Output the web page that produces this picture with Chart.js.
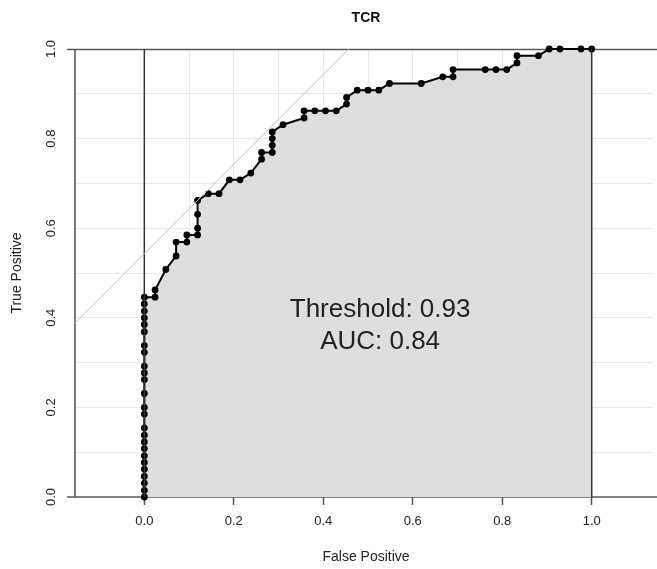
<!DOCTYPE html>
<html>
<head>
<meta charset="utf-8">
<script src="https://cdn.jsdelivr.net/npm/chart.js@4.4.1/dist/chart.umd.min.js"></script>
<style>
html,body{margin:0;padding:0;background:#fff;}
#wrap{width:657px;height:569px;}
</style>
</head>
<body>
<div id="wrap"><canvas id="c" width="657" height="569"></canvas></div>
<script>
// ---- data ----
const chartTitle = 'TCR';
const xTitle = 'False Positive';
const yTitle = 'True Positive';
const thresholdText = 'Threshold: 0.93';
const aucText = 'AUC: 0.84';

const fpr = [
  0, 0, 0, 0, 0, 0, 0, 0, 0, 0, 0,
  0, 0, 0, 0, 0, 0, 0, 0, 0, 0, 0, 0, 0, 0,
  0.024, 0.024, 0.048, 0.071, 0.071, 0.095, 0.095, 0.119, 0.119, 0.119, 0.119,
  0.143, 0.167, 0.190, 0.214, 0.238, 0.262, 0.262, 0.286, 0.286, 0.286, 0.286,
  0.310, 0.357, 0.357, 0.381, 0.405, 0.429, 0.452, 0.452, 0.476, 0.500, 0.524,
  0.548, 0.619, 0.667, 0.690, 0.690, 0.762, 0.786, 0.810, 0.833, 0.833, 0.881,
  0.905, 0.929, 0.976, 1.0
];
const tpr = [
  0, 0.015, 0.031, 0.046, 0.062, 0.077, 0.092, 0.108, 0.123, 0.138, 0.154,
  0.185, 0.200, 0.231, 0.262, 0.277, 0.292, 0.323, 0.338, 0.369, 0.385, 0.400, 0.415, 0.431, 0.446,
  0.446, 0.462, 0.508, 0.538, 0.569, 0.569, 0.585, 0.585, 0.600, 0.631, 0.662,
  0.677, 0.677, 0.708, 0.708, 0.723, 0.754, 0.769, 0.769, 0.785, 0.800, 0.815,
  0.831, 0.846, 0.862, 0.862, 0.862, 0.862, 0.877, 0.892, 0.908, 0.908, 0.908,
  0.923, 0.923, 0.938, 0.938, 0.954, 0.954, 0.954, 0.954, 0.969, 0.985, 0.985,
  1.0, 1.0, 1.0, 1.0
];

// reference line (tangent at threshold)
const diagX = [-0.155, 0.457];
const diagY = [0.388, 1.0];
// frame lines at x = 0 and x = 1
const vLineX0 = [0, 0];
const vLineX1 = [1, 1];
const vLineY = [0, 1];

const xTickValues = [0, 0.1, 0.2, 0.3, 0.4, 0.5, 0.6, 0.7, 0.8, 0.9, 1.0];
const xTickLabels = ['0.0', '', '0.2', '', '0.4', '', '0.6', '', '0.8', '', '1.0'];
const yTickValues = [0, 0.1, 0.2, 0.3, 0.4, 0.5, 0.6, 0.7, 0.8, 0.9, 1.0];
const yTickLabels = ['0.0', '', '0.2', '', '0.4', '', '0.6', '', '0.8', '', '1.0'];

// annotation anchor (data coords)
const annotX = 0.527;
const annotY1 = 0.417;
const annotY2 = 0.346;

// ---- chart ----
const FONT = 'Liberation Sans, Arial, Helvetica, sans-serif';
const zip = (xs, ys) => xs.map((x, i) => ({x: x, y: ys[i]}));

const framePlugin = {
  id: 'frame',
  beforeDatasetsDraw(chart) {
    const {ctx, chartArea: a} = chart;
    ctx.save();
    ctx.strokeStyle = '#5a5a5a';
    ctx.lineWidth = 1.6;
    ctx.beginPath();
    ctx.moveTo(a.left - 8, a.top + 0.5); ctx.lineTo(chart.width, a.top + 0.5);
    ctx.moveTo(a.left - 8, a.bottom); ctx.lineTo(chart.width, a.bottom);
    ctx.moveTo(a.left, a.top); ctx.lineTo(a.left, a.bottom);
    ctx.stroke();
    ctx.restore();
  },
  afterDraw(chart) {
    const {ctx, chartArea: a} = chart;
    const xs = chart.scales.x, ys = chart.scales.y;
    ctx.save();
    ctx.fillStyle = '#222';
    // y tick labels (rotated)
    ctx.font = '13px ' + FONT;
    ctx.textAlign = 'center';
    ctx.textBaseline = 'middle';
    yTickValues.forEach((v, i) => {
      if (!yTickLabels[i]) return;
      ctx.save();
      ctx.translate(51, ys.getPixelForValue(v));
      ctx.rotate(-Math.PI / 2);
      ctx.fillText(yTickLabels[i], 0, 0);
      ctx.restore();
    });
    // axis titles
    ctx.font = '14px ' + FONT;
    ctx.fillText(xTitle, (a.left + chart.width) / 2, 557);
    ctx.save();
    ctx.translate(17, (a.top + a.bottom) / 2);
    ctx.rotate(-Math.PI / 2);
    ctx.fillText(yTitle, 0, 0);
    ctx.restore();
    // main title
    ctx.font = 'bold 14px ' + FONT;
    ctx.fillStyle = '#111';
    ctx.fillText(chartTitle, (a.left + chart.width) / 2, 18);
    // annotations
    ctx.font = '26px ' + FONT;
    ctx.fillStyle = '#222';
    const ax = xs.getPixelForValue(annotX);
    ctx.fillText(thresholdText, ax, ys.getPixelForValue(annotY1));
    ctx.fillText(aucText, ax, ys.getPixelForValue(annotY2));
    ctx.restore();
  }
};

const isEdge = v => v === 0 || v === 1;

new Chart(document.getElementById('c'), {
  type: 'scatter',
  data: {
    datasets: [
      {
        data: zip(fpr, tpr), showLine: true, tension: 0,
        borderColor: '#000', borderWidth: 2,
        pointRadius: 3.4, pointBackgroundColor: '#000', pointBorderWidth: 0,
        fill: 'origin', backgroundColor: '#dedede', order: 3, clip: false
      },
      {
        data: zip(vLineX0, vLineY), showLine: true, borderColor: '#333',
        borderWidth: 1.5, pointRadius: 0, order: 2, fill: false
      },
      {
        data: zip(vLineX1, vLineY), showLine: true, borderColor: '#333',
        borderWidth: 1.5, pointRadius: 0, order: 2, fill: false
      },
      {
        data: zip(diagX, diagY), showLine: true, borderColor: '#c4c4c4',
        borderWidth: 1, pointRadius: 0, order: 1, fill: false
      }
    ]
  },
  options: {
    responsive: false, animation: false, devicePixelRatio: 1,
    layout: {padding: {top: 49, right: 0, bottom: 0, left: 0}},
    plugins: {legend: {display: false}, tooltip: {enabled: false}, title: {display: false}},
    scales: {
      x: {
        type: 'linear', min: -0.155, max: 1.137,
        afterBuildTicks: s => { s.ticks = xTickValues.map(v => ({value: v})); },
        afterFit: s => { s.height = 72; },
        ticks: {
          autoSkip: false, maxRotation: 0, minRotation: 0, padding: 9, color: '#222',
          font: {family: FONT, size: 13},
          callback: (v, i) => xTickLabels[i]
        },
        grid: {
          color: c => (c.tick && isEdge(c.tick.value)) ? 'rgba(0,0,0,0)' : '#e8e8e8',
          lineWidth: 1, drawTicks: true, tickLength: 8,
          tickColor: c => xTickLabels[c.index] ? '#555' : 'rgba(0,0,0,0)', tickWidth: 1.5
        },
        border: {display: false}
      },
      y: {
        type: 'linear', min: 0, max: 1,
        afterBuildTicks: s => { s.ticks = yTickValues.map(v => ({value: v})); },
        afterFit: s => { s.width = 75; },
        ticks: {display: false},
        grid: {
          color: c => (c.tick && isEdge(c.tick.value)) ? 'rgba(0,0,0,0)' : '#e8e8e8',
          lineWidth: 1, drawTicks: false
        },
        border: {display: false}
      }
    }
  },
  plugins: [framePlugin]
});
</script>
</body>
</html>
